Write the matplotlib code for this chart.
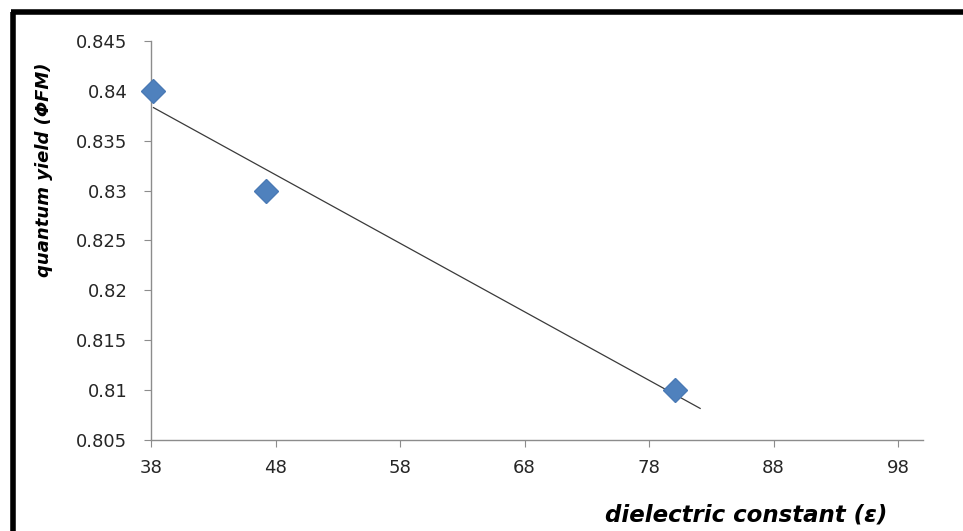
import matplotlib.pyplot as plt
import matplotlib.lines as mlines
import numpy as np

# data
dielectric = [38.2, 47.2, 80.1]
quantum_yield = [0.84, 0.83, 0.81]
x_ticks = [38, 48, 58, 68, 78, 88, 98]
y_ticks = [0.805, 0.81, 0.815, 0.82, 0.825, 0.83, 0.835, 0.84, 0.845]
y_labels = ['0.805', '0.81', '0.815', '0.82', '0.825', '0.83', '0.835', '0.84', '0.845']

plt.rcParams['font.family'] = ['DejaVu Sans']

fig = plt.figure(figsize=(9.63, 5.31), dpi=100)
ax = fig.add_axes([0.1568, 0.1714, 0.8017, 0.7514])

# linear trendline, extended forward a little like the spreadsheet one
slope, intercept = np.polyfit(dielectric, quantum_yield, 1)
tx = np.array([dielectric[0], dielectric[-1] + 2.0])
ax.plot(tx, slope * tx + intercept, color='#3a3a3a', linewidth=0.9, zorder=2)

ax.plot(dielectric, quantum_yield, linestyle='none', marker='D', markersize=12,
        color='#4f81bd', markeredgecolor='#4a7ab5', zorder=3, clip_on=False)

ax.set_xlim(38, 100)
ax.set_ylim(0.805, 0.845)
ax.set_xticks(x_ticks)
ax.set_yticks(y_ticks)
ax.set_yticklabels(y_labels)

for s in ['top', 'right']:
    ax.spines[s].set_visible(False)
for s in ['left', 'bottom']:
    ax.spines[s].set_color('#8c8c8c')
    ax.spines[s].set_linewidth(1.0)
ax.tick_params(axis='both', direction='out', length=5, color='#8c8c8c',
               labelsize=13, labelcolor='#262626')
ax.tick_params(axis='x', pad=9)
ax.tick_params(axis='y', pad=12)

fig.text(0.046, 0.68, 'quantum yield (\u03a6FM)', rotation=90, ha='center', va='center',
         fontsize=13, fontweight='bold', fontstyle='italic', color='black')
fig.text(0.775, 0.030, 'dielectric constant (\u03b5)', ha='center', va='center',
         fontsize=16.5, fontweight='bold', fontstyle='italic', color='black')

# thick frame on left and top like the pasted screenshot
fig.add_artist(mlines.Line2D([0.0134, 0.0134], [0.0, 0.978], color='black', linewidth=4,
                             transform=fig.transFigure, solid_capstyle='butt'))
fig.add_artist(mlines.Line2D([0.0113, 1.0], [0.978, 0.978], color='black', linewidth=4,
                             transform=fig.transFigure, solid_capstyle='butt'))

fig.savefig('out.png', dpi=100)
